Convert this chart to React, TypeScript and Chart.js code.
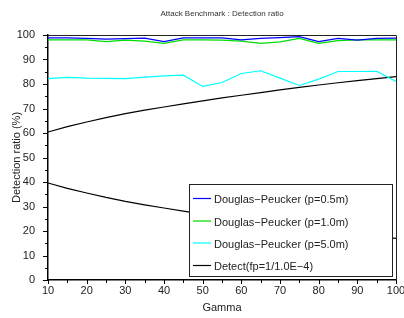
import React, { useEffect, useRef } from "react";
import { Chart, registerables } from "chart.js";

Chart.register(...registerables);

const gamma = [10, 15, 20, 25, 30, 35, 40, 45, 50, 55, 60, 65, 70, 75, 80, 85, 90, 95, 100];
const dp05 = [98.8, 98.8, 98.6, 98.3, 98.5, 98.7, 97.3, 98.8, 98.8, 98.8, 98.0, 98.6, 98.9, 99.3, 97.3, 98.6, 97.9, 98.6, 98.7];
const dp10 = [98.0, 98.0, 98.0, 97.3, 97.9, 97.5, 96.6, 98.0, 98.0, 97.9, 97.5, 96.6, 97.2, 98.6, 96.6, 97.7, 98.0, 98.0, 98.0];
const dp50 = [82.2, 82.7, 82.4, 82.3, 82.2, 82.8, 83.3, 83.6, 79.0, 80.6, 84.3, 85.4, 82.4, 79.4, 82.0, 85.1, 85.1, 85.2, 81.0];
const detectUpper = [60.4, 62.6, 64.5, 66.3, 67.9, 69.3, 70.6, 71.9, 73.1, 74.3, 75.4, 76.5, 77.6, 78.6, 79.6, 80.5, 81.4, 82.2, 83.0];
const detectLower = [39.6, 37.4, 35.5, 33.7, 32.1, 30.7, 29.4, 28.1, 26.9, 25.7, 24.6, 23.5, 22.4, 21.4, 20.4, 19.5, 18.6, 17.8, 17.0];

const seriesNames = [
  "Douglas\u2212Peucker (p=0.5m)",
  "Douglas\u2212Peucker (p=1.0m)",
  "Douglas\u2212Peucker (p=5.0m)",
  "Detect(fp=1/1.0E\u22124)",
];
const seriesColors = ["#0000ff", "#00dd00", "#00ffff", "#000000"];
const titleText = "Attack Benchmark : Detection ratio";
const xTitle = "Gamma";
const yTitle = "Detection ratio (%)";

const FONT = "'Liberation Sans', Arial, Helvetica, sans-serif";

const toPts = (ys: number[]) => ys.map((y, i) => ({ x: gamma[i], y }));

const decorPlugin = {
  id: "decor",
  afterDraw(chart: any) {
    const ctx = chart.ctx as CanvasRenderingContext2D;
    const ca = chart.chartArea;
    const xs = chart.scales.x;
    const ys = chart.scales.y;
    ctx.save();
    // frame top/right
    ctx.strokeStyle = "#222";
    ctx.lineWidth = 1;
    ctx.beginPath();
    ctx.moveTo(ca.left, ca.top + 0.5);
    ctx.lineTo(ca.right + 0.5, ca.top + 0.5);
    ctx.lineTo(ca.right + 0.5, ca.bottom);
    ctx.stroke();
    // ticks
    ctx.strokeStyle = "#000";
    ctx.lineWidth = 1;
    ctx.beginPath();
    for (let v = 0; v <= 100; v += 5) {
      const py = Math.round(ys.getPixelForValue(v)) + 0.5;
      const len = v % 10 === 0 ? 5 : 3;
      ctx.moveTo(ca.left - len, py);
      ctx.lineTo(ca.left, py);
    }
    for (let v = 10; v <= 100; v += 5) {
      const px = Math.round(xs.getPixelForValue(v)) + 0.5;
      const len = v % 10 === 0 ? 4 : 3;
      ctx.moveTo(px, ca.bottom);
      ctx.lineTo(px, ca.bottom + len);
    }
    ctx.stroke();
    // title
    const cx = (ca.left + ca.right) / 2;
    ctx.fillStyle = "#333";
    ctx.font = `8px ${FONT}`;
    ctx.textAlign = "center";
    ctx.textBaseline = "middle";
    ctx.fillText(titleText, cx, 14);
    // axis titles
    ctx.fillStyle = "#222";
    ctx.font = `11px ${FONT}`;
    ctx.fillText(xTitle, cx, 308);
    ctx.save();
    ctx.translate(17, (ca.top + ca.bottom) / 2);
    ctx.rotate(-Math.PI / 2);
    ctx.fillText(yTitle, 0, 0);
    ctx.restore();
    // legend
    const lx = 189.5, ly = 184.5, lw = 203, lh = 92;
    ctx.fillStyle = "#fff";
    ctx.fillRect(lx, ly, lw, lh);
    ctx.strokeStyle = "#222";
    ctx.lineWidth = 1;
    ctx.strokeRect(lx, ly, lw, lh);
    const rowsY = [200, 222.5, 244.5, 267];
    ctx.font = `11px ${FONT}`;
    ctx.textAlign = "left";
    ctx.textBaseline = "middle";
    seriesNames.forEach((name, i) => {
      const y = rowsY[i];
      ctx.strokeStyle = seriesColors[i];
      ctx.lineWidth = 1.2;
      ctx.beginPath();
      ctx.moveTo(193, y - 1.5);
      ctx.lineTo(211, y - 1.5);
      ctx.stroke();
      ctx.fillStyle = "#222";
      ctx.fillText(name, 214, y);
    });
    ctx.restore();
  },
};

export default function App() {
  const ref = useRef<HTMLCanvasElement | null>(null);
  useEffect(() => {
    document.body.style.margin = "0";
    if (!ref.current) return;
    const lineDs = (label: string, data: number[], color: string) => ({
      label,
      data: toPts(data),
      borderColor: color,
      backgroundColor: color,
      borderWidth: 1.2,
      pointRadius: 0,
      tension: 0,
      fill: false,
    });
    const chart = new Chart(ref.current, {
      type: "line",
      data: {
        datasets: [
          lineDs(seriesNames[0], dp05, seriesColors[0]),
          lineDs(seriesNames[1], dp10, seriesColors[1]),
          lineDs(seriesNames[2], dp50, seriesColors[2]),
          lineDs(seriesNames[3], detectUpper, seriesColors[3]),
          lineDs(seriesNames[3] + " ", detectLower, seriesColors[3]),
        ],
      },
      options: {
        animation: false,
        responsive: false,
        devicePixelRatio: 1,
        layout: { padding: { top: 35, right: 8, left: 0, bottom: 0 } },
        plugins: {
          legend: { display: false },
          tooltip: { enabled: false },
          title: { display: false },
        },
        scales: {
          x: {
            type: "linear",
            min: 10,
            max: 100,
            grid: { display: false },
            border: { display: true, color: "#000", width: 1.5 },
            ticks: {
              stepSize: 10,
              autoSkip: false,
              maxRotation: 0,
              padding: -4,
              color: "#222",
              font: { size: 11, family: FONT },
            },
            afterFit(scale: any) {
              scale.height = 38;
              scale.paddingLeft = 0;
              scale.paddingRight = 0;
            },
          },
          y: {
            min: 0,
            max: 100,
            grid: { display: false },
            border: { display: true, color: "#000", width: 1.5 },
            ticks: {
              stepSize: 10,
              autoSkip: false,
              padding: 5,
              color: "#222",
              font: { size: 11, family: FONT },
            },
            afterFit(scale: any) {
              scale.width = 48;
              scale.paddingTop = 0;
              scale.paddingBottom = 0;
            },
          },
        },
      },
      plugins: [decorPlugin],
    });
    return () => chart.destroy();
  }, []);
  return <canvas ref={ref} width={404} height={318} style={{ display: "block" }} />;
}
